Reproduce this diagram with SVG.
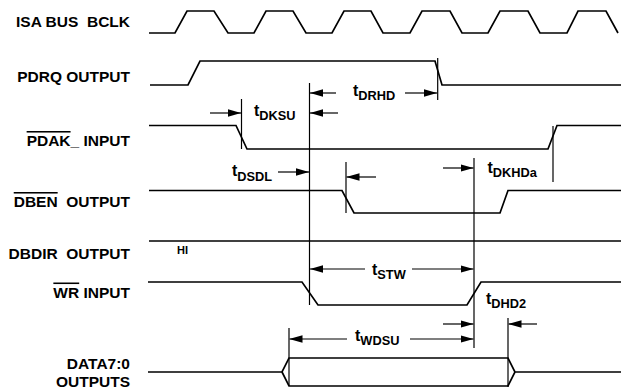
<svg xmlns="http://www.w3.org/2000/svg" width="621" height="389" viewBox="0 0 621 389">
<style>
.lbl{font-family:"Liberation Sans",Arial,Helvetica,sans-serif;font-weight:bold;font-size:15.5px;fill:#000;text-anchor:end;white-space:pre}
.tl{font-family:"Liberation Sans",Arial,Helvetica,sans-serif;font-weight:bold;font-size:16px;fill:#000}
.sub{font-size:12.8px}
.hi{font-family:"Liberation Sans",Arial,Helvetica,sans-serif;font-weight:bold;font-size:11px;fill:#000}
.wave{fill:none;stroke:#000;stroke-width:1.7;stroke-linejoin:miter}
.dim{fill:none;stroke:#000;stroke-width:1.2}
.arr{fill:none;stroke:#000;stroke-width:1.2;marker-end:url(#ah)}
</style>
<defs>
<marker id="ah" markerUnits="userSpaceOnUse" viewBox="0 0 13 7.4" refX="13" refY="3.7" markerWidth="13" markerHeight="7.4" orient="auto">
<path d="M0,0 L13,3.7 L0,7.4 z" fill="#000"/>
</marker>
</defs>
<rect width="621" height="389" fill="#fff"/>

<g id="bclk">
<text class="lbl" x="130" y="27" xml:space="preserve">ISA BUS  BCLK</text>
<path class="wave" d="M149,33 H175 L187,11 H214 L228,33 H254 L266,11 H293 L306,33 H332 L344,11 H371 L383,33 H410 L422,11 H450 L462,33 H488 L500,11 H528 L540,33 H567 L578,11 H606 L618,33"/>
</g>

<g id="pdrq">
<text class="lbl" x="130" y="81.5">PDRQ OUTPUT</text>
<path class="wave" d="M150,85 H188 L200,61 H435 L442,85 H621"/>
</g>

<g id="pdak">
<text class="lbl" x="130" y="146"><tspan text-decoration="overline">PDAK</tspan>_ INPUT</text>
<path class="wave" d="M149,125.5 H236 L247,149 H548 L557,125.5 H621"/>
</g>

<g id="dben">
<text class="lbl" x="130" y="207" xml:space="preserve"><tspan text-decoration="overline">DBEN</tspan>  OUTPUT</text>
<path class="wave" d="M149,190.5 H342 L354,213 H500 L508,190.5 H621"/>
</g>

<g id="dbdir">
<text class="lbl" x="130" y="259" xml:space="preserve">DBDIR  OUTPUT</text>
<path class="wave" d="M149,241 H621"/>
<text class="hi" x="177" y="254">HI</text>
</g>

<g id="wr">
<text class="lbl" x="130" y="297.5"><tspan text-decoration="overline">WR</tspan> INPUT</text>
<path class="wave" d="M148,282 H302 L318,305 H467 L481,282 H621"/>
</g>

<g id="data">
<text class="lbl" x="130" y="369">DATA7:0</text>
<text class="lbl" x="130" y="386.5">OUTPUTS</text>
<path class="wave" d="M148,372 H282 L289,358 H508 L515,372 L508,386 H289 L282,372 M515,372 H621"/>
</g>

<g id="connectors">
<line class="dim" x1="241.5" y1="99" x2="241.5" y2="149"/>
<line class="dim" x1="309.5" y1="83" x2="309.5" y2="305"/>
<line class="dim" x1="437.7" y1="58" x2="437.7" y2="100"/>
<line class="dim" x1="346" y1="162" x2="346" y2="213"/>
<line class="dim" x1="474" y1="158" x2="474" y2="348"/>
<line class="dim" x1="553" y1="126" x2="553" y2="182"/>
<line class="dim" x1="289" y1="328" x2="289" y2="386"/>
<line class="dim" x1="508" y1="318" x2="508" y2="387"/>

<line class="arr" x1="336" y1="93" x2="310" y2="93"/>
<line class="arr" x1="405" y1="93" x2="437" y2="93"/>
<line class="arr" x1="210" y1="113" x2="241" y2="113"/>
<line class="arr" x1="338" y1="113" x2="310" y2="113"/>
<line class="arr" x1="278" y1="172" x2="309" y2="172"/>
<line class="arr" x1="376" y1="177" x2="346.5" y2="177"/>
<line class="arr" x1="443" y1="168" x2="473.5" y2="168"/>
<line class="arr" x1="365" y1="269" x2="310" y2="269"/>
<line class="arr" x1="412" y1="269" x2="473.5" y2="269"/>
<line class="arr" x1="443" y1="324" x2="473.5" y2="324"/>
<line class="arr" x1="537" y1="324" x2="508.5" y2="324"/>
<line class="arr" x1="347" y1="339" x2="289.5" y2="339"/>
<line class="arr" x1="410" y1="339" x2="473.5" y2="339"/>

<text class="tl" x="353" y="95.5">t<tspan class="sub" dy="4">DRHD</tspan></text>
<text class="tl" x="254" y="115.5">t<tspan class="sub" dy="4">DKSU</tspan></text>
<text class="tl" x="232" y="176">t<tspan class="sub" dy="4.5">DSDL</tspan></text>
<text class="tl" x="487.5" y="173.3">t<tspan class="sub" dy="4">DKHDa</tspan></text>
<text class="tl" x="372" y="275">t<tspan class="sub" dy="4">STW</tspan></text>
<text class="tl" x="486" y="304">t<tspan class="sub" dy="4">DHD2</tspan></text>
<text class="tl" x="355" y="340.5">t<tspan class="sub" dy="4">WDSU</tspan></text>
</g>
</svg>
